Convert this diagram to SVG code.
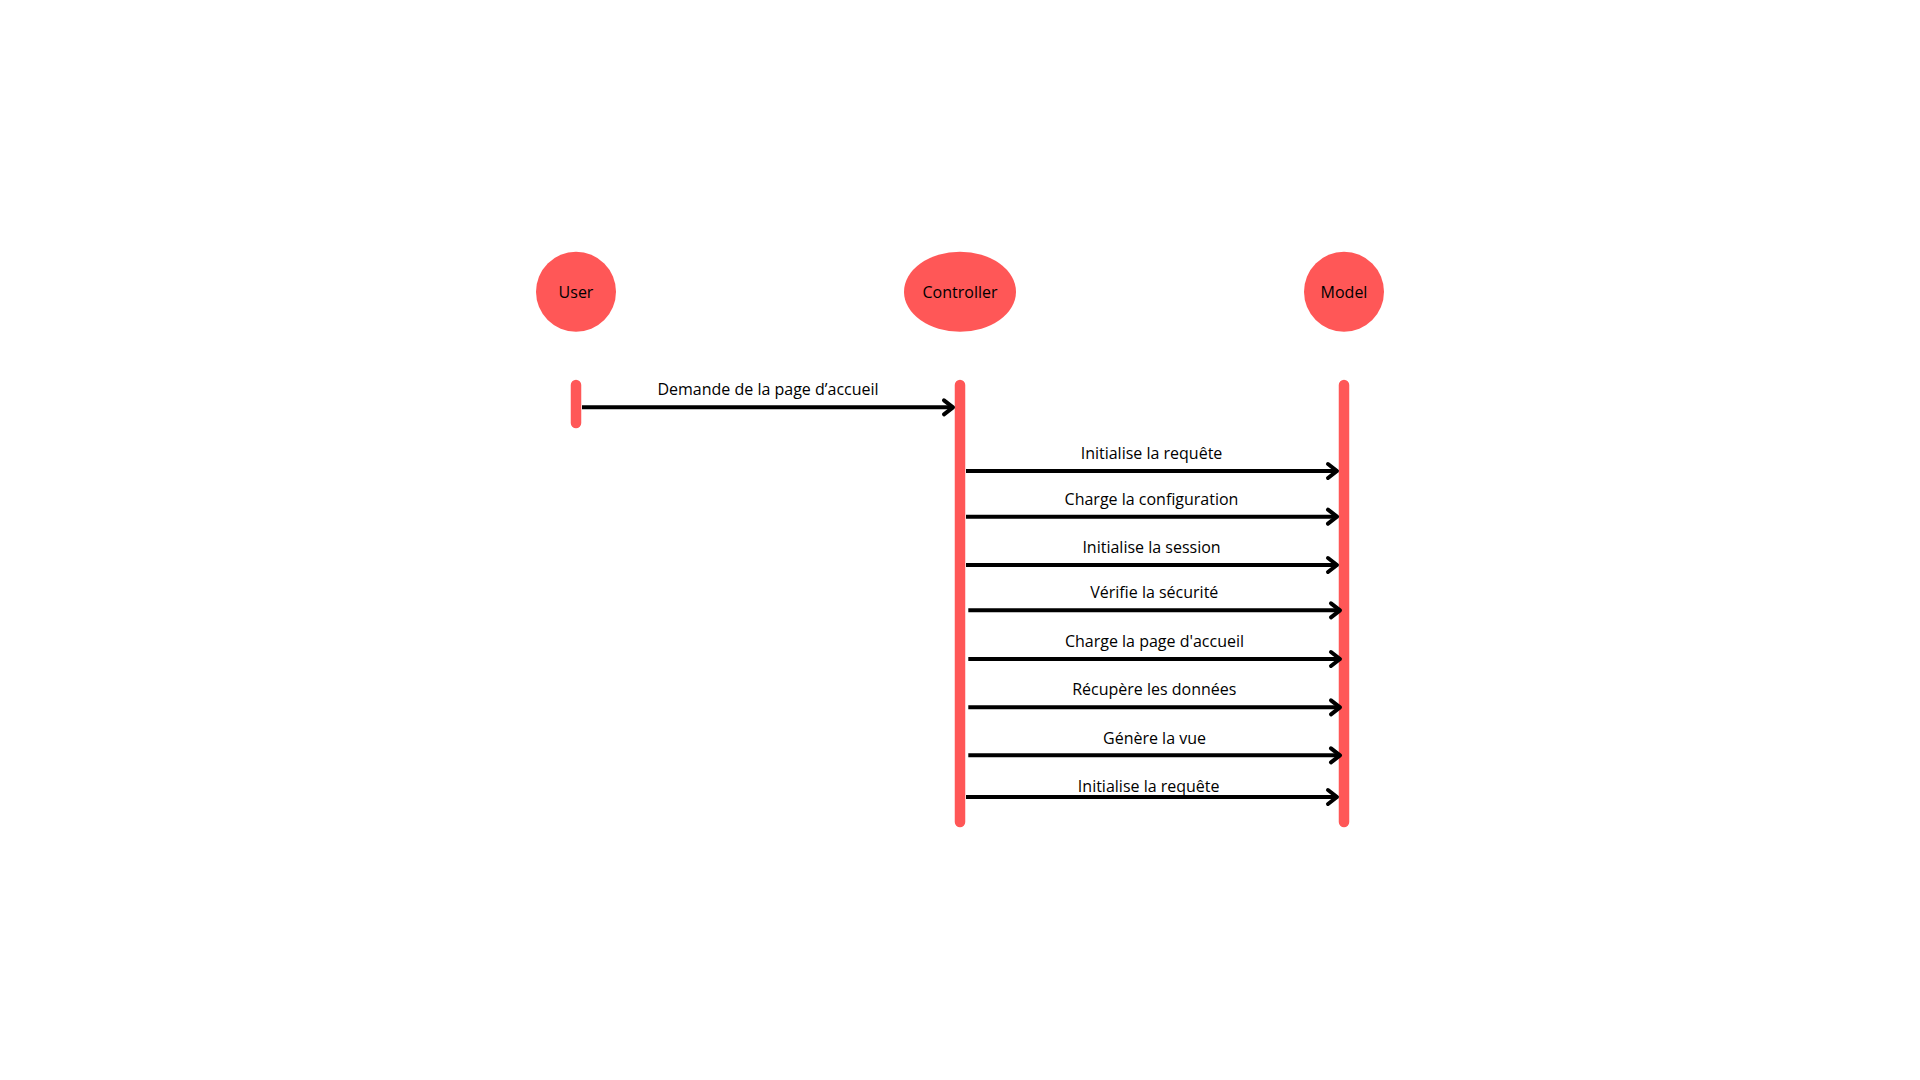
<svg xmlns="http://www.w3.org/2000/svg" width="1920" height="1080" viewBox="0 0 1920 1080">
<style>
.node{fill:#ff5757}
.life{stroke:#ff5757;stroke-width:10.5;stroke-linecap:round;fill:none}
.lbl{font-family:"Open Sans","Liberation Sans",sans-serif;font-size:16px;fill:#000;text-anchor:middle}
.msg{stroke:#000;stroke-width:4;fill:none}
.head{stroke:#000;stroke-width:4;fill:none;stroke-linecap:round;stroke-linejoin:round}
</style>
<rect width="1920" height="1080" fill="#fff"/>
<g id="user">
<circle class="node" cx="576" cy="291.7" r="40"/>
<text class="lbl" x="576" y="298">User</text>
<line class="life" x1="576" y1="385" x2="576" y2="423"/>
</g>
<g id="controller">
<ellipse class="node" cx="960" cy="291.7" rx="56" ry="40"/>
<text class="lbl" x="960" y="298">Controller</text>
<line class="life" x1="960" y1="385" x2="960" y2="822"/>
</g>
<g id="model">
<circle class="node" cx="1344" cy="291.7" r="40"/>
<text class="lbl" x="1344" y="298">Model</text>
<line class="life" x1="1344" y1="385" x2="1344" y2="822"/>
</g>
<g id="connectors">
<line class="msg" x1="582" y1="407.3" x2="952" y2="407.3"/>
<path class="head" d="M944,400.3 L953,407.3 L944,414.3"/>
<text class="lbl" x="768" y="395">Demande de la page d’accueil</text>

<line class="msg" x1="966" y1="471" x2="1336" y2="471"/>
<path class="head" d="M1328,464 L1337,471 L1328,478"/>
<text class="lbl" x="1151.5" y="459">Initialise la requête</text>

<line class="msg" x1="966" y1="516.7" x2="1336" y2="516.7"/>
<path class="head" d="M1328,509.7 L1337,516.7 L1328,523.7"/>
<text class="lbl" x="1151.5" y="505">Charge la configuration</text>

<line class="msg" x1="966" y1="565" x2="1336" y2="565"/>
<path class="head" d="M1328,558 L1337,565 L1328,572"/>
<text class="lbl" x="1151.5" y="553.3">Initialise la session</text>

<line class="msg" x1="968.3" y1="610.3" x2="1339" y2="610.3"/>
<path class="head" d="M1331,603.3 L1340,610.3 L1331,617.3"/>
<text class="lbl" x="1154.3" y="598.3">Vérifie la sécurité</text>

<line class="msg" x1="968.3" y1="659" x2="1339" y2="659"/>
<path class="head" d="M1331,652 L1340,659 L1331,666"/>
<text class="lbl" x="1154.5" y="647.3">Charge la page d'accueil</text>

<line class="msg" x1="968.3" y1="707.3" x2="1339" y2="707.3"/>
<path class="head" d="M1331,700.3 L1340,707.3 L1331,714.3"/>
<text class="lbl" x="1154.3" y="695.3">Récupère les données</text>

<line class="msg" x1="968.3" y1="755.3" x2="1339" y2="755.3"/>
<path class="head" d="M1331,748.3 L1340,755.3 L1331,762.3"/>
<text class="lbl" x="1154.5" y="744">Génère la vue</text>

<line class="msg" x1="966" y1="797" x2="1336" y2="797"/>
<path class="head" d="M1328,790 L1337,797 L1328,804"/>
<text class="lbl" x="1148.7" y="792">Initialise la requête</text>
</g>
</svg>
